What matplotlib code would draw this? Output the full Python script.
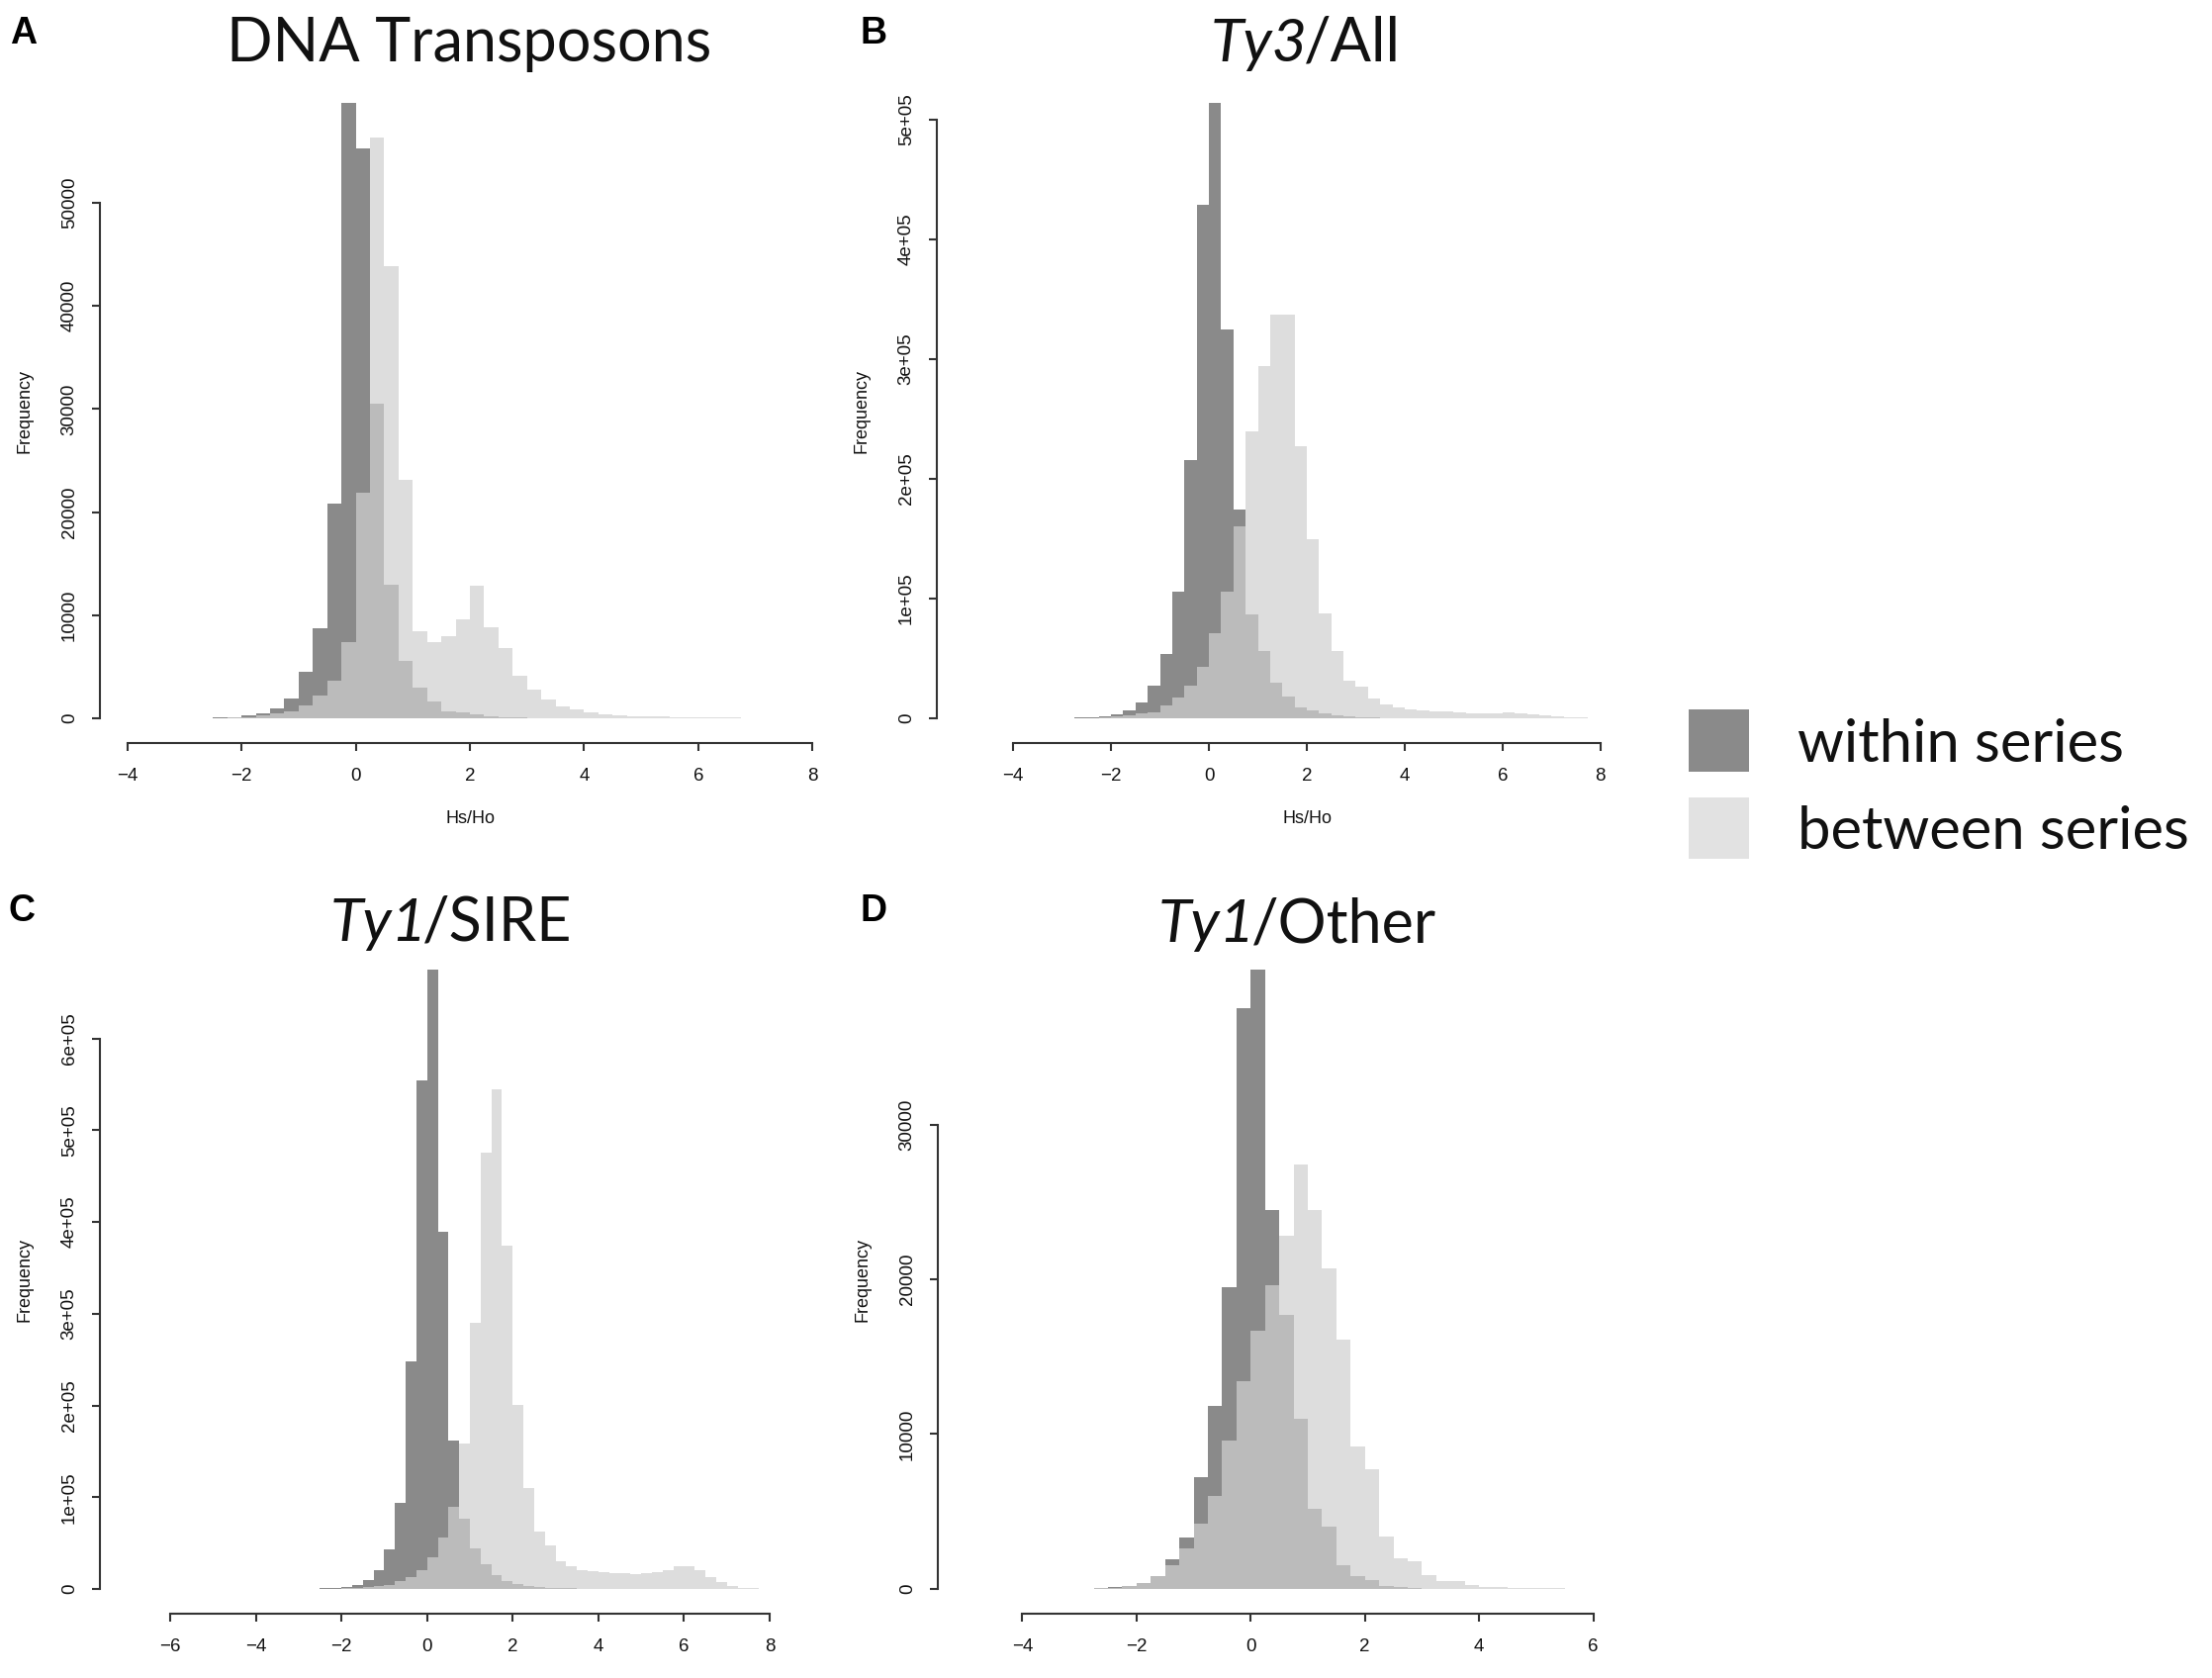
import numpy as np
import matplotlib
matplotlib.use('Agg')
import matplotlib.pyplot as plt
from matplotlib.patches import Rectangle

plt.rcParams['font.family'] = ['Liberation Sans', 'DejaVu Sans']

W, H = 2236, 1696
BIN_W = 0.25

# counts per 0.25-wide bin, in thousands
dna_start = -3.0
dna_within_k = [0.02, 0.04, 0.08, 0.15, 0.3, 0.5, 1.0, 1.9, 4.5, 8.7, 20.8, 59.7,
                55.3, 30.5, 13.0, 5.6, 3.0, 1.6, 0.7, 0.55, 0.35, 0.2, 0.12, 0.08,
                0.05, 0.04, 0.03, 0.02, 0.02, 0.01, 0, 0, 0, 0, 0, 0, 0, 0, 0, 0]
dna_between_k = [0.01, 0.02, 0.04, 0.08, 0.15, 0.3, 0.5, 0.7, 1.3, 2.2, 3.7, 7.4,
                 21.9, 56.3, 43.9, 23.1, 8.5, 7.4, 8.0, 9.6, 12.9, 8.8, 6.8, 4.1,
                 2.8, 1.8, 1.2, 0.9, 0.6, 0.4, 0.3, 0.25, 0.2, 0.2, 0.15, 0.15,
                 0.15, 0.12, 0.1, 0.05]

ty3_start = -3.5
ty3_within_k = [0.1, 0.2, 0.3, 0.6, 1.0, 1.8, 3.2, 6.8, 13.5, 27, 54, 106, 216, 429,
                514, 325, 174, 87, 56, 30, 18, 9.5, 6.3, 4.0, 2.5, 1.5, 1.0, 0.7,
                0.5, 0.4, 0.3, 0.25, 0.2, 0.2, 0.15, 0.15, 0.1, 0.1, 0.1, 0.1,
                0.05, 0.05, 0, 0, 0, 0]
ty3_between_k = [0.05, 0.1, 0.2, 0.3, 0.5, 0.8, 1.5, 2.5, 4.0, 5.4, 11, 17.6, 27, 43,
                 71, 106, 160, 240, 294, 337, 337, 227, 150, 88, 56, 31.6, 26.6,
                 16.7, 12, 9, 7.2, 6.5, 6.0, 5.5, 5.0, 4.5, 4.2, 4.5, 5.0, 4.5,
                 3.5, 2.5, 1.5, 1.0, 0.6, 0.3]

sire_start = -3.0
sire_within_k = [0.1, 0.2, 0.5, 1.0, 2.3, 4.0, 10, 20, 43, 94, 248, 554, 675, 389,
                 162, 76, 44, 27, 15.5, 8.6, 5.8, 3.5, 2.0, 1.2, 0.8, 0.5, 0.3, 0.2,
                 0.1, 0.1, 0, 0, 0, 0, 0, 0, 0, 0, 0, 0, 0, 0, 0, 0]
sire_between_k = [0.05, 0.1, 0.2, 0.4, 0.6, 1.0, 1.7, 2.9, 4.6, 8.6, 12.7, 20, 34.5,
                  56, 89, 159, 290, 475, 545, 374, 201, 110, 62, 47, 30, 25, 20, 19,
                  18, 17, 16.7, 16, 16.7, 18, 20.7, 25, 25, 20.7, 12.7, 7, 3, 1.5,
                  0.8, 0.3]

other_start = -3.0
other_within_k = [0.02, 0.05, 0.1, 0.2, 0.35, 0.8, 1.9, 3.3, 7.2, 11.8, 19.5, 37.5,
                  40.0, 24.5, 17.7, 11.0, 5.2, 4.0, 1.5, 0.85, 0.55, 0.2, 0.1, 0.05,
                  0.02, 0, 0, 0, 0, 0, 0, 0, 0, 0, 0, 0]
other_between_k = [0.02, 0.05, 0.08, 0.2, 0.35, 0.8, 1.5, 2.6, 4.2, 6.0, 9.6, 13.4,
                   16.7, 19.6, 22.8, 27.4, 24.5, 20.7, 16.1, 9.2, 7.7, 3.4, 2.0, 1.8,
                   0.9, 0.5, 0.5, 0.25, 0.15, 0.1, 0.08, 0.05, 0.04, 0.03, 0.02, 0.01]

# titles: (italic part, upright part)
panels = [
    dict(letter='A', title=('', 'DNA Transposons'), start=dna_start,
         within=dna_within_k, between=dna_between_k,
         xlim=(-4.48, 8.48), xticks=[-4, -2, 0, 2, 4, 6, 8],
         yticks=[0, 10000, 20000, 30000, 40000, 50000],
         ylabels=['0', '10000', '20000', '30000', '40000', '50000'],
         box=(101, 79, 849, 751), title_xy=(474, 62), letter_xy=(10, 44), xlab=True),
    dict(letter='B', title=('Ty3', '/All'), start=ty3_start,
         within=ty3_within_k, between=ty3_between_k,
         xlim=(-5.56, 9.56), xticks=[-4, -2, 0, 2, 4, 6, 8],
         yticks=[0, 1e5, 2e5, 3e5, 4e5, 5e5],
         ylabels=['0', '1e+05', '2e+05', '3e+05', '4e+05', '5e+05'],
         box=(947, 79, 1695, 751), title_xy=(1320, 62), letter_xy=(869, 44), xlab=True),
    dict(letter='C', title=('Ty1', '/SIRE'), start=sire_start,
         within=sire_within_k, between=sire_between_k,
         xlim=(-7.64, 9.64), xticks=[-6, -4, -2, 0, 2, 4, 6, 8],
         yticks=[0, 1e5, 2e5, 3e5, 4e5, 5e5, 6e5],
         ylabels=['0', '1e+05', '2e+05', '3e+05', '4e+05', '5e+05', '6e+05'],
         box=(101, 955, 849, 1631), title_xy=(456, 951), letter_xy=(9, 931), xlab=False),
    dict(letter='D', title=('Ty1', '/Other'), start=other_start,
         within=other_within_k, between=other_between_k,
         xlim=(-5.48, 7.48), xticks=[-4, -2, 0, 2, 4, 6],
         yticks=[0, 10000, 20000, 30000],
         ylabels=['0', '10000', '20000', '30000'],
         box=(948, 955, 1696, 1631), title_xy=(1311, 952), letter_xy=(869, 931), xlab=False),
]

DARK = (138 / 255, 138 / 255, 138 / 255)
LIGHT = (208 / 255, 208 / 255, 208 / 255)
LIGHT_ALPHA = 0.71
AXIS_COLOR = '#333333'
TITLE_FONT = 'Lato'

fig = plt.figure(figsize=(W / 100, H / 100), dpi=100)
fig.patch.set_facecolor('white')
renderer = fig.canvas.get_renderer()


def split_title(cx, y, it_part, rm_part):
    """italic + upright pieces, centred together on cx (pixels)"""
    kw = dict(fontsize=44, family=TITLE_FONT, color='#111111', va='baseline', ha='left')
    t_it = fig.text(0, 1 - y / H, it_part, style='italic', **kw)
    t_rm = fig.text(0, 1 - y / H, rm_part, **kw)
    w_it = t_it.get_window_extent(renderer).width if it_part else 0
    w_rm = t_rm.get_window_extent(renderer).width
    gap = -4 if it_part else 0
    x0 = cx - (w_it + w_rm + gap) / 2
    t_it.set_x(x0 / W)
    t_rm.set_x((x0 + w_it + gap) / W)


for p in panels:
    l, t, r, b = p['box']
    ax = fig.add_axes([l / W, 1 - b / H, (r - l) / W, (b - t) / H])
    within = np.array(p['within']) * 1000
    between = np.array(p['between']) * 1000
    edges = p['start'] + BIN_W * np.arange(len(within) + 1)
    ax.hist(edges[:-1], bins=edges, weights=within, color=DARK, linewidth=0)
    ax.hist(edges[:-1], bins=edges, weights=between, color=LIGHT,
            alpha=LIGHT_ALPHA, linewidth=0)

    ymax = max(within.max(), between.max())
    ax.set_xlim(*p['xlim'])
    ax.set_ylim(-0.04 * ymax, 1.04 * ymax)
    ax.set_facecolor('none')
    for s in ['top', 'right']:
        ax.spines[s].set_visible(False)
    ax.spines['left'].set_bounds(p['yticks'][0], p['yticks'][-1])
    ax.spines['bottom'].set_bounds(p['xticks'][0], p['xticks'][-1])
    for s in ['left', 'bottom']:
        ax.spines[s].set_color(AXIS_COLOR)
        ax.spines[s].set_linewidth(1.5)
    ax.set_xticks(p['xticks'])
    ax.set_xticklabels([f'{v:g}'.replace('-', '\u2212') for v in p['xticks']])
    ax.set_yticks(p['yticks'])
    ax.set_yticklabels(p['ylabels'], rotation=90, va='center')
    ax.tick_params(axis='both', length=6, width=1.5, color=AXIS_COLOR,
                   labelsize=13.5, labelcolor='#111111')
    ax.tick_params(axis='x', pad=12)
    ax.tick_params(axis='y', pad=10)

    ax.text(-76 / (r - l), 0.5, 'Frequency', transform=ax.transAxes, rotation=90,
            ha='center', va='center', fontsize=13, color='#111111')
    if p['xlab']:
        ax.text(0.5, 1 - (827 - t) / (b - t), 'Hs/Ho', transform=ax.transAxes,
                ha='center', va='center', fontsize=13, color='#111111')

    tx, ty = p['title_xy']
    split_title(tx, ty, *p['title'])
    lx, ly = p['letter_xy']
    fig.text(lx / W, 1 - ly / H, p['letter'], ha='left', va='baseline',
             fontsize=27, fontweight='bold', color='black')

# legend
legend_labels = ['within series', 'between series']
legend_colors = [DARK, (226 / 255, 226 / 255, 226 / 255)]
legend_boxes = [(1707, 717, 61, 63), (1707, 806, 61, 62)]
for lab, col, (bx, by, bw, bh) in zip(legend_labels, legend_colors, legend_boxes):
    fig.patches.append(Rectangle((bx / W, 1 - (by + bh) / H), bw / W, bh / H,
                                 transform=fig.transFigure, facecolor=col,
                                 edgecolor='none'))
    fig.text(1817 / W, 1 - (by + bh / 2 + 4) / H, lab, ha='left', va='center',
             fontsize=43, family=TITLE_FONT, color='#111111')

fig.savefig('out.png', dpi=100, facecolor='white')
